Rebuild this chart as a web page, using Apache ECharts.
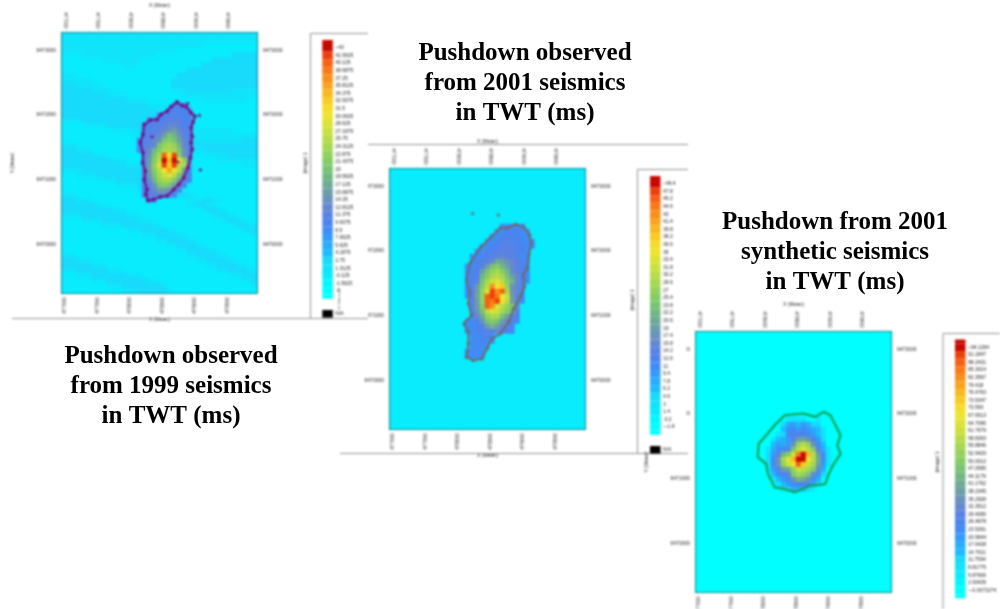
<!DOCTYPE html>
<html><head><meta charset="utf-8">
<script src="https://cdn.jsdelivr.net/npm/echarts@6/dist/echarts.min.js"></script>
<style>
html,body{margin:0;padding:0;background:#fff;overflow:hidden}
#map,#words{position:absolute;left:0;top:0;width:1000px;height:609px}
#map{filter:blur(0.8px)}
</style></head><body>
<div id="map"></div><div id="words"></div>
<script>
const eastTicks=[477000,477500,478000,478500,479000,479500];
const northTicks=[6470000,6471000,6472000,6473000];
const titles=[
 'Pushdown observed\nfrom 1999 seismics\nin TWT (ms)',
 'Pushdown observed\nfrom 2001 seismics\nin TWT (ms)',
 'Pushdown from 2001\nsynthetic seismics\nin TWT (ms)'];
const scale1=['-3','-1.5625','-0.125','1.3125','2.75','4.1875','5.625','7.0625','8.5','9.9375','11.375','12.8125','14.25','15.6875','17.125','18.5625','20','21.4375','22.875','24.3125','25.75','27.1875','28.625','30.0625','31.5','32.9375','34.375','35.8125','37.25','38.6875','40.125','41.5625','~43'];
const scale2=['~-1.8','-0.2','1.4','3','4.6','6.2','7.8','9.4','11','12.6','14.2','15.8','17.4','19','20.6','22.2','23.8','25.4','27','28.6','30.2','31.8','33.4','35','36.6','38.2','39.8','41.4','43','44.6','46.2','47.8','~49.4'];
const scale3=['~-0.0073274','2.93439','5.87606','8.81775','11.7594','14.7011','17.6428','20.5844','23.5261','26.4678','29.4095','32.3512','35.2928','38.2345','41.1762','44.1179','47.0595','50.0012','52.9429','55.8846','58.8263','61.7679','64.7096','67.6513','70.593','73.5347','76.4763','79.418','82.3597','85.3014','88.2431','91.1847','~94.1264'];
const palette=['#00ffff','#00f8ff','#08ecfd','#10e4fb','#18dafa','#1cbcff','#28acfc','#349cf8','#408cf4','#4c84ee','#5a82e4','#6488d0','#6a92bc','#6c9ea8','#6eaa94','#72b684','#78c474','#84cc68','#94d25c','#a6d850','#b8dc48','#cae040','#dce238','#ece430','#f6dc28','#f8cc20','#f8b820','#f8a41e','#f8901a','#f87a16','#f66012','#ec400c','#c80800'];
// level characters index the scales above
const bands1=[
'333333333333333333333333333333333333333','333333333333333333333333333333333333333','333333333333333333333333333322222222222',
'333333333333333333333332222222222222222','222233333333333333322222222222222244444','222222223333333322222222222222444444444',
'222222222222333222222222222244444444444','222222222222222222222222244444444444444','333222222222222222222224444444444444444',
'333333222222222222222244444444444444444','444333332222222222222244444444444444444','444444333322222222222233344444444433333',
'444444444333322222222222333333333333333','444444444444433332222222222233333333322','444444444444444443333222222222222222222',
'444444444444444444433322222222222222222','444444444444444444444332222222222222222','333344444444444444444433222222222222222',
'222223333444444444444444333222222222222','222222222233333444444444433333333322222','222222222222223333444444443333333333333',
'222222222222222222333344444333333333444','333222222222222222222233344444444444444','444333222222222222222222233334444444444',
'444444333222222222222222222233333444444','444444444433322222222222222222233333333','444444444444433322222222222222222222333',
'333344444444444443332222222222222222222','222333344444444444433322222222222222222','222222233334444444444332222222222222222',
'222222222223333444444433222222222222222','222222222222222333344444322222222222222','333222222222222222233344433222222222222',
'444333222222222222222222233344332222222','444444433322222222222222233443322222222','444444444433322222222222222234433222222',
'333344444444433322222222222222344332222','222233334444444333222222222222223443322','222222223333444444332222222222222234433',
'222222222222233344444332222222222222344','222222222222222233344443322222222222223','222222222222222222233444433222222222222',
'222222222222222222222334444332222222222','222222222222222222222223344443322222222','333222222222222222222222233444433222222',
'444333222222222222222222222334444332222','444444333222222222222222222223344443322','333444444333222222222222222222233444433',
'222333444444433322222222222222222233444','222222333444444443322222222222222222334','222222222333444444443222222222222222223',
'222222222222333444444322222222222222222'];
const plume1=['.......999..','......99999.','....999a999.','..9999aaa99.','.99aaabba99.','.99aabcdba9.','.9aabdgfca9.','99abcghgdb9.','9aabgijifb9.','9abfhjjjgc9.','.acgjuovhca.','.adhkwqwnib.','.adimvpvkjb.','.adhknrnkd9.','.acgjlmkgc9.','.9bfijjhda9.','.9acghgdb9..','.9abddca9...','.9aaaa99....','..99........'];
const plume2=['.......88888..','......8899988.','.....88999988.','....8899a99888','...8899aaa9988','..8899aaaa998.','.8899aabaa988.','.899abedcba98.','889adghfdba98.','899dgijhfba98.','89afhjkjgdb98.','89agjlmkhfb98.','89dhksnpicb9..','8adimvsujcb9..','8aeiuvtnlda8..','.adiutvnkdb8..','.adhusmkigb...','.acgkmljhfa...','.8beijjgda9...','889cghgdba8...','8899dfdba9....','8899aaba98....','.88998........','.88988........','.8888.........','8888..........','8888..........'];
const plume3=['.....3333..3..','....46757644..','....588787653.','...3489998753.','..3567adec974.','..5767cikic85.','.3688agkmkha63','.47afhltwqkd83','.48cjmqwwnke83','.48cilnupljd73','.37adeilkjhb6.','..589ahjigb84.','..3578cfec86..','...357899864..','....3466543...'];
const outline1=[[478725,6472196],[478802,6472144],[478869,6472124],[478941,6472031],[478998,6471979],[478972,6471887],[478942,6471799],[478957,6471670],[478942,6471567],[478957,6471464],[478931,6471336],[478890,6471181],[478828,6471027],[478751,6470924],[478674,6470846],[478571,6470743],[478468,6470728],[478365,6470692],[478277,6470676],[478246,6470769],[478262,6470846],[478221,6471001],[478236,6471130],[478195,6471258],[478200,6471413],[478159,6471567],[478200,6471696],[478221,6471851],[478313,6471918],[478416,6471928],[478478,6472005],[478571,6472057],[478633,6472124],[478725,6472196]];
const strays1=[[479086,6471145],[479070,6471990],[478890,6472175],[478339,6471660],[478741,6471269]];
const outline2=[[478886,6472405],[479015,6472368],[479103,6472249],[479129,6472119],[479093,6471938],[479067,6471730],[479005,6471626],[479025,6471445],[478963,6471289],[478860,6471107],[478782,6470900],[478652,6470718],[478523,6470640],[478445,6470485],[478368,6470329],[478238,6470303],[478134,6470355],[478160,6470562],[478160,6470744],[478093,6470874],[478212,6471004],[478160,6471185],[478186,6471341],[478134,6471548],[478186,6471808],[478342,6472042],[478497,6472197],[478652,6472353],[478756,6472353],[478886,6472405]];
const strays2=[[478228,6472576],[478621,6472555]];
const outline3=[[478919,6472031],[479023,6471979],[479101,6471824],[479179,6471668],[479127,6471512],[479179,6471382],[479075,6471227],[478997,6471071],[478945,6470915],[478711,6470889],[478477,6470786],[478321,6470837],[478165,6470863],[478061,6471071],[478035,6471227],[477905,6471330],[477920,6471538],[478035,6471668],[478165,6471824],[478321,6471979],[478607,6472005],[478789,6471953],[478919,6472031]];
const strays3=[];

const COLS=39,ROWS=52,DIGITS='0123456789abcdefghijklmnopqrstuvw';
const panels=[
 {scale:scale1,bands:bands1,flat:'2',plume:plume1,col:15,row:14,outline:outline1,strays:strays1,line:'#6e1488',sym:4,left:62,top:33,bar:322.3,barTop:44,side:[306,163]},
 {scale:scale2,bands:null,flat:'2',plume:plume2,col:15,row:11,outline:outline2,strays:strays2,line:'#6e6a70',sym:3.5,left:390,top:169,bar:650,barTop:180,side:[633,300]},
 {scale:scale3,bands:null,flat:'0',plume:plume3,col:13,row:17,outline:outline3,strays:strays3,line:'#10a050',sym:0,left:696,top:332,bar:955,barTop:343.5,side:[938,462]}
];
const GW=195,GH=260,FONT='"Liberation Sans",sans-serif',INK='#222',EDGE='#006468';
const numeric=s=>parseFloat(s.replace('~',''));
function cells(p){
 const vals=p.scale.map(numeric),out=[];
 for(let r=0;r<ROWS;r++)for(let c=0;c<COLS;c++){
  let ch=p.bands&&p.bands[r]?(p.bands[r][c]||p.flat):p.flat;
  const pr=p.plume[r-p.row];
  if(pr&&pr[c-p.col]&&pr[c-p.col]!=='.')ch=pr[c-p.col];
  out.push([c,r,vals[DIGITS.indexOf(ch)]]);
 }
 return out;
}
const idx=n=>Array.from({length:n},(_,i)=>i);
const opt={animation:false,grid:[],xAxis:[],yAxis:[],series:[],visualMap:[],graphic:{elements:[]}};
panels.forEach((p,i)=>{
 const box={left:p.left,top:p.top,width:GW,height:GH,containLabel:false,outerBoundsMode:'none'};
 const g0=opt.grid.length;
 opt.grid.push(box,Object.assign({},box));
 const x0=opt.xAxis.length,y0=opt.yAxis.length;
 opt.xAxis.push({type:'category',gridIndex:g0,data:idx(COLS),show:false});
 opt.yAxis.push({type:'category',gridIndex:g0,data:idx(ROWS),inverse:true,show:false});
 const xa=(pos)=>({type:'value',gridIndex:g0+1,position:pos,min:476955,max:479955,name:'X (Meter)',nameLocation:'middle',nameGap:pos==='top'?21:22,nameTextStyle:{fontSize:5,color:INK,fontFamily:FONT},
  axisLine:{show:true,onZero:false,lineStyle:{color:EDGE,width:2}},splitLine:{show:false},
  axisTick:{show:true,inside:true,length:2,customValues:eastTicks,lineStyle:{color:'#223'}},
  axisLabel:{customValues:eastTicks,rotate:90,fontSize:5,color:INK,margin:4,fontFamily:FONT,formatter:v=>String(v)}});
 const ya=(pos)=>({type:'value',gridIndex:g0+1,position:pos,min:6469245,max:6473265,name:pos==='left'?'Y (Meter)':'',nameLocation:'middle',nameGap:47,nameTextStyle:{fontSize:5,color:INK,fontFamily:FONT},
  axisLine:{show:true,onZero:false,lineStyle:{color:EDGE,width:2}},splitLine:{show:false},
  axisTick:{show:true,inside:true,length:2,customValues:northTicks,lineStyle:{color:'#223'}},
  axisLabel:{customValues:northTicks,fontSize:5,color:INK,margin:6,fontFamily:FONT,formatter:v=>String(v)}});
 opt.xAxis.push(xa('top'),xa('bottom'));
 opt.yAxis.push(ya('left'),ya('right'));
 const si=opt.series.length;
 opt.series.push({type:'heatmap',xAxisIndex:x0,yAxisIndex:y0,data:cells(p),progressive:0,emphasis:{disabled:true},silent:true});
 opt.series.push({type:'line',xAxisIndex:x0+1,yAxisIndex:y0+1,data:p.outline,silent:true,smooth:false,showSymbol:p.sym>0,symbol:'circle',symbolSize:p.sym,
   lineStyle:{color:p.line,width:p.sym?2:2.2},itemStyle:{color:p.line}});
 opt.series.push({type:'scatter',xAxisIndex:x0+1,yAxisIndex:y0+1,data:p.strays,silent:true,symbolSize:3.5,itemStyle:{color:p.line}});
 const pieces=[{value:-1002,label:'N/A',color:'#000'},{value:-1001,label:' ',color:'#fff'},{value:-1000,label:' ',color:'#fff'}]
   .concat(p.scale.map((s,k)=>({value:numeric(s),label:s,color:palette[k]})));
 opt.visualMap.push({type:'piecewise',seriesIndex:si,dimension:2,orient:'vertical',left:p.bar,top:p.barTop,padding:0,itemWidth:10.5,itemHeight:7.6,itemGap:0,textGap:2.5,align:'left',itemSymbol:'rect',
   selectedMode:false,hoverLink:false,z:20,textStyle:{fontSize:5,color:INK,fontFamily:FONT},pieces});
 opt.graphic.elements.push(
  {type:'rect',z:21,silent:true,shape:{x:p.bar,y:p.barTop-4,width:10.5,height:4},style:{fill:palette[32]}},
  {type:'rect',z:21,silent:true,shape:{x:p.bar,y:p.barTop+250.8,width:10.5,height:4},style:{fill:palette[0]}},
  {type:'text',z:21,silent:true,x:p.side[0],y:p.side[1],rotation:Math.PI/2,style:{text:'(image) 1',fontSize:5,fill:INK,fontFamily:FONT,align:'center',verticalAlign:'middle'}});
});
const frame=(x1,y1,x2,y2)=>({type:'line',z:15,silent:true,shape:{x1,y1,x2,y2},style:{stroke:'#8f8f8f',lineWidth:1}});
opt.graphic.elements.push(
 {type:'rect',z:10,silent:true,shape:{x:340,y:160,width:28,height:158},style:{fill:'#fff'}},
 {type:'rect',z:10,silent:true,shape:{x:660,y:340,width:26.5,height:80},style:{fill:'#fff'}},
 frame(12,318.5,368,318.5),frame(310.5,33.5,310.5,318.5),frame(310.5,33.5,368,33.5),
 frame(368,144.5,688,144.5),frame(340,453.5,688,453.5),frame(637.5,169.5,637.5,453.5),frame(637.5,169.5,688,169.5),
 frame(943,333.5,943,609),frame(943,333.5,1000,333.5));
echarts.init(document.getElementById('map'),null,{renderer:'canvas'}).setOption(opt);
const tStyle={fontFamily:'"Liberation Serif",serif',fontWeight:'bold',fontSize:25,lineHeight:30,color:'#000',align:'center'};
echarts.init(document.getElementById('words')).setOption({animation:false,title:[
 {text:titles[0],left:171,top:342,textAlign:'center',padding:0,textStyle:tStyle},
 {text:titles[1],left:525,top:39,textAlign:'center',padding:0,textStyle:tStyle},
 {text:titles[2],left:835,top:208,textAlign:'center',padding:0,textStyle:tStyle}]});
</script></body></html>
